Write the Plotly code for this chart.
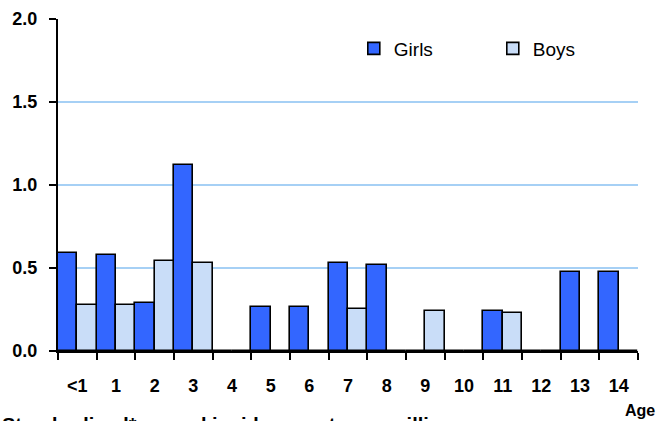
import plotly.graph_objects as go

# Standardised annual incidence rate per million, by single year of age
ages = ["<1", "1", "2", "3", "4", "5", "6", "7", "8", "9", "10", "11", "12", "13", "14"]
girls = [0.59, 0.58, 0.29, 1.12, 0.0, 0.267, 0.267, 0.53, 0.52, 0.0, 0.0, 0.241, 0.0, 0.475, 0.475]
boys = [0.277, 0.277, 0.542, 0.53, 0.0, 0.0, 0.0, 0.253, 0.0, 0.241, 0.0, 0.231, 0.0, 0.0, 0.0]

FONT = "Liberation Sans, Arial, Helvetica, sans-serif"

fig = go.Figure()
fig.add_trace(go.Bar(
    name="Girls", x=ages, y=girls,
    marker=dict(color="#3366ff", line=dict(color="black", width=1.6)),
))
fig.add_trace(go.Bar(
    name="Boys", x=ages, y=boys,
    marker=dict(color="#c9ddf8", line=dict(color="black", width=1.6)),
))

fig.update_layout(
    width=663, height=421,
    margin=dict(l=58, r=25, t=19, b=70, autoexpand=False),
    paper_bgcolor="white", plot_bgcolor="white",
    barmode="group", bargap=0, bargroupgap=0,
    font=dict(family=FONT, color="black"),
    showlegend=True,
    legend=dict(
        orientation="h", x=0.51, y=0.911, xanchor="left", yanchor="middle",
        font=dict(size=19, family=FONT),
        bgcolor="rgba(0,0,0,0)", traceorder="normal",
        entrywidth=94, entrywidthmode="pixels",
    ),
    xaxis=dict(
        type="category", tickson="boundaries", ticks="outside", ticklen=7,
        tickwidth=1.5, tickcolor="black", showline=True, linecolor="black",
        linewidth=2, showgrid=False, tickangle=0, automargin=False,
        ticklabelstandoff=17,
        tickfont=dict(size=18, family=FONT, weight="bold"),
        fixedrange=True,
    ),
    yaxis=dict(
        range=[0, 2.0], dtick=0.5, tickformat=".1f", ticks="outside", ticklen=7,
        tickwidth=1.5, tickcolor="black", showline=True, linecolor="black",
        linewidth=2, showgrid=True, gridcolor="#a6d0f5", gridwidth=1.5,
        zeroline=False, automargin=False, ticklabelstandoff=8,
        tickfont=dict(size=18, family=FONT, weight="bold"),
        fixedrange=True,
    ),
    annotations=[
        dict(text="<b>Age</b>", xref="paper", yref="paper", x=1.004, y=-0.18,
             xanchor="center", yanchor="middle", showarrow=False,
             font=dict(size=16, family=FONT)),
        dict(text="<b>Standardised* annual incidence rate per million</b>",
             xref="paper", yref="paper", x=-0.1, y=-0.184,
             xanchor="left", yanchor="top", showarrow=False,
             font=dict(size=20, family=FONT)),
    ],
)

fig.write_html("out.html")
